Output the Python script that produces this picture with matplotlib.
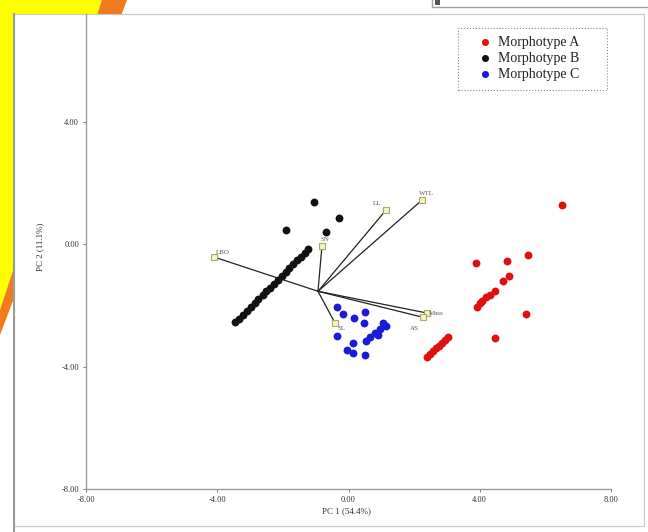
import matplotlib
matplotlib.use("Agg")
from matplotlib import pyplot as plt
from matplotlib.lines import Line2D
from matplotlib.patches import Polygon, Rectangle

W, H = 648, 532

# PCA scores per morphotype (PC1, PC2)
a_pc1 = [6.51, 5.47, 4.83, 3.89, 4.89, 4.71, 4.47, 4.31, 4.19, 4.07, 4.01, 3.92,
         5.41, 4.47, 2.39, 2.48, 2.58, 2.67, 2.76, 2.85, 2.94, 3.03]
a_pc2 = [1.27, -0.36, -0.56, -0.62, -1.05, -1.21, -1.54, -1.67, -1.73, -1.86, -1.93, -2.06,
         -2.29, -3.07, -3.69, -3.59, -3.50, -3.40, -3.33, -3.24, -3.14, -3.04]

b_pc1 = [-3.46, -3.35, -3.22, -3.10, -2.98, -2.86, -2.75, -2.62, -2.50, -2.40,
         -2.28, -2.15, -2.03, -1.92, -1.80, -1.68, -1.57, -1.45, -1.34, -1.23,
         -1.05, -0.29, -1.91, -0.69]
b_pc2 = [-2.55, -2.43, -2.30, -2.18, -2.04, -1.92, -1.80, -1.66, -1.53, -1.43,
         -1.30, -1.17, -1.04, -0.92, -0.78, -0.65, -0.53, -0.41, -0.28, -0.16,
         1.37, 0.85, 0.46, 0.39]

c_pc1 = [-0.35, -0.17, 0.17, 0.50, 0.47, 1.05, 0.96, 0.81, 0.66, 0.53, -0.35,
         0.14, -0.05, 0.14, 0.50, 1.14, 0.90]
c_pc2 = [-2.06, -2.29, -2.42, -2.22, -2.58, -2.58, -2.78, -2.91, -3.04, -3.17, -3.01,
         -3.24, -3.46, -3.56, -3.63, -2.68, -2.97]

# variable loadings (biplot arrows share one origin)
origin = (-0.93, -1.54)
var_names = ["LBO", "SN", "LL", "WTL", "Mass", "AS", "SL"]
var_pc1 = [-4.10, -0.81, 1.14, 2.24, 2.39, 2.27, -0.41]
var_pc2 = [-0.42, -0.07, 1.11, 1.44, -2.25, -2.39, -2.58]
var_offsets = [(6, 3), (2, 5), (-6, 5), (3, 5), (7, 0), (-6, -8), (5, -4)]

x_ticks = [-8, -4, 0, 4, 8]
y_ticks = [-8, -4, 0, 4]

groups = ["Morphotype A", "Morphotype B", "Morphotype C"]
colors = ["#e01010", "#111111", "#1a1ad8"]


def px(x, y):
    return (x / W, 1 - y / H)


fig = plt.figure(figsize=(6.48, 5.32), dpi=100)
fig.patch.set_facecolor("white")

# sticky-note corner behind the panel
deco = [
    Polygon([px(0, 0), px(102, 0), px(0, 310)], closed=True,
            facecolor="#ffff00", edgecolor="none"),
    Polygon([px(102, 0), px(127, 0), px(0, 335), px(0, 310)], closed=True,
            facecolor="#f07a1c", edgecolor="none"),
    Rectangle(px(14, 526), (644 - 14) / W, (526 - 14) / H,
              facecolor="white", edgecolor="#c8c8c8", linewidth=0.8),
    # box poking in from the top edge
    Rectangle(px(432, 7), (660 - 432) / W, 20 / H,
              facecolor="white", edgecolor="#a0a0a0", linewidth=1.0),
    Rectangle(px(435, 5), 5 / W, 5 / H, facecolor="#555555", edgecolor="none"),
    # legend box
    Rectangle(px(458, 90), (607 - 458) / W, (90 - 28) / H,
              facecolor="none", edgecolor="#888888", linewidth=0.8, linestyle=":"),
]
for p in deco:
    p.set_transform(fig.transFigure)
    p.set_zorder(-5)
    fig.patches.append(p)
deco[-1].set_zorder(-3)
fig.lines.append(Line2D([14 / W, 14 / W], [0, 1 - 14 / H], transform=fig.transFigure,
                        color="#9a9a9a", linewidth=1.5, zorder=-4))

ax = fig.add_axes([86 / W, 1 - 489 / H, (611 - 86) / W, (489 - 14) / H])
ax.set_facecolor("none")

# loading vectors
for name, vx, vy, (dx, dy) in zip(var_names, var_pc1, var_pc2, var_offsets):
    ax.plot([origin[0], vx], [origin[1], vy], color="#222222", linewidth=0.9, zorder=2)
    ax.plot(vx, vy, marker="s", markersize=4.5, markerfacecolor="#f4f4c8",
            markeredgecolor="#a8a860", markeredgewidth=0.8, zorder=4)
    ax.annotate(name, (vx, vy), xytext=(dx, dy), textcoords="offset points",
                fontsize=5, color="#555555", family="Liberation Serif",
                ha="center", va="center", zorder=5)

for xs, ys, c, g in zip([a_pc1, b_pc1, c_pc1], [a_pc2, b_pc2, c_pc2], colors, groups):
    ax.scatter(xs, ys, s=32, color=c, linewidths=0, zorder=3, label=g)

ax.set_xlim(-8, 8)
ax.set_ylim(-8, 7.52)
ax.set_xticks(x_ticks)
ax.set_yticks(y_ticks)
ax.set_xticklabels([f"{v:.2f}" for v in x_ticks])
ax.set_yticklabels([f"{v:.2f}" for v in y_ticks])
ax.tick_params(labelsize=6, length=2, width=0.6, color="#666666", labelcolor="#333333", pad=3)
for lab in ax.get_xticklabels() + ax.get_yticklabels():
    lab.set_family("Liberation Serif")

for side in ["top", "right"]:
    ax.spines[side].set_visible(False)
for side in ["left", "bottom"]:
    ax.spines[side].set_color("#9a9a9a")
    ax.spines[side].set_linewidth(1.0)

ax.set_xlabel("PC 1 (54.4%)", fontsize=6.5, family="Liberation Serif", color="#333333")
ax.set_ylabel("PC 2 (11.1%)", fontsize=6.5, family="Liberation Serif", color="#333333")
ax.xaxis.set_label_coords(0.497, -0.038)
ax.yaxis.set_label_coords(-0.08, 0.51)

# legend entries sit inside the dotted box drawn above
leg = ax.legend(loc="upper left", bbox_to_anchor=((477 - 86) / 525, (489 - 36) / 475),
                prop={"family": "Liberation Serif", "size": 10}, frameon=False,
                handletextpad=0.3, borderpad=0.0, borderaxespad=0.0, labelspacing=0.2,
                handlelength=1.2, scatterpoints=1, markerscale=0.9)
for t in leg.get_texts():
    t.set_color("#222222")
leg.set_zorder(6)

fig.savefig("out.png", dpi=100)
